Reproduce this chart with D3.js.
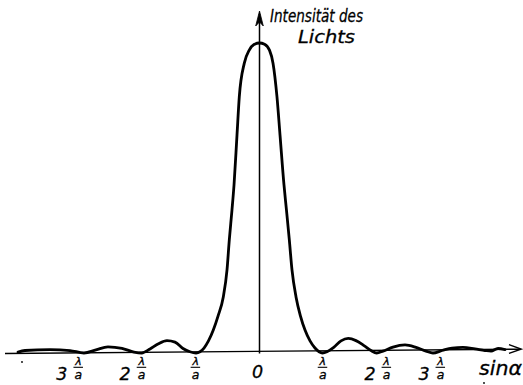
<!DOCTYPE html>
<html>
<head>
<meta charset="utf-8">
<script src="https://cdn.jsdelivr.net/npm/d3@7"></script>
<style>
  html, body { margin: 0; padding: 0; background: #fff; }
  svg { display: block; }
  text { font-family: "DejaVu Sans", "Liberation Sans", sans-serif; font-style: italic; fill: #000; stroke: #000; stroke-width: 0.3; }
</style>
</head>
<body>
<svg id="chart" width="523" height="385"></svg>
<script>
// sin(alpha) in units of lambda/a
const sinAlpha = [
  -3.895, -3.782, -3.379, -3.056, -2.831, -2.637, -2.444, -2.218, -2.024, -1.900,
  -1.766, -1.637, -1.492, -1.363, -1.234, -1.121, -1.024, -0.960, -0.895, -0.823,
  -0.745, -0.669, -0.584, -0.524, -0.487, -0.444, -0.411, -0.363, -0.326, -0.245,
  -0.165, -0.089, 0.000, 0.081, 0.161, 0.218, 0.282, 0.331, 0.395, 0.435,
  0.481, 0.524, 0.589, 0.661, 0.734, 0.815, 0.895, 0.960, 1.016, 1.089,
  1.202, 1.315, 1.432, 1.556, 1.685, 1.798, 1.890, 1.992, 2.153, 2.347,
  2.524, 2.685, 2.798, 2.944, 3.105, 3.282, 3.476, 3.637, 3.734, 3.847, 3.960
];
// relative light intensity (peak = 1)
const intensity = [
  0.003, 0.008, 0.011, 0.008, 0.000, 0.010, 0.020, 0.015, 0.003, 0.000,
  0.013, 0.029, 0.040, 0.035, 0.0145, 0.004, 0.000, 0.004, 0.016, 0.039,
  0.074, 0.119, 0.181, 0.268, 0.365, 0.461, 0.542, 0.703, 0.826, 0.935,
  0.977, 0.995, 1.000, 0.996, 0.977, 0.935, 0.826, 0.703, 0.542, 0.461,
  0.365, 0.268, 0.181, 0.119, 0.074, 0.039, 0.016, 0.004, 0.000, 0.004,
  0.019, 0.039, 0.047, 0.040, 0.024, 0.008, 0.000, 0.006, 0.019, 0.026,
  0.018, 0.006, 0.000, 0.008, 0.016, 0.018, 0.013, 0.008, 0.006, 0.0145, 0.011
];
// tick positions (units of lambda/a) and their labels
const tickValues = [-2.92, -1.90, -1.03, 0, 1.02, 2.05, 2.92];
const tickMultipliers = ["3", "2", "", "0", "", "2", "3"];
const xAxisTitle = "sinα";
const yAxisTitle = ["Intensität des", "Lichts"];

const svg = d3.select("#chart");
const x = d3.scaleLinear().domain([-1, 1]).range([259.5 - 62, 259.5 + 62]);
const y = d3.scaleLinear().domain([0, 1]).range([353, 43]);

// x axis (slightly tilted, as in the scanned drawing)
const axisG = svg.append("g");
axisG.append("line")
  .attr("x1", 5).attr("y1", 353.5).attr("x2", 520).attr("y2", 349.2)
  .attr("stroke", "#000").attr("stroke-width", 1.4);
axisG.append("path")
  .attr("d", "M509,344.6 L521,349.1 L509,353.4")
  .attr("fill", "none").attr("stroke", "#000").attr("stroke-width", 1.4);

// y axis
axisG.append("line")
  .attr("x1", x(0)).attr("y1", 353.5).attr("x2", x(0)).attr("y2", 14)
  .attr("stroke", "#000").attr("stroke-width", 1.5);
axisG.append("path")
  .attr("d", `M${x(0) - 3.8},26 L${x(0)},11 L${x(0) + 3.8},26 L${x(0)},22 Z`)
  .attr("fill", "#000").attr("stroke", "#000").attr("stroke-width", 0.8);

// intensity curve
const pts = sinAlpha.map((s, i) => [s, intensity[i]]);
const line = d3.line()
  .x(d => x(d[0]))
  .y(d => y(d[1]))
  .curve(d3.curveMonotoneX);
svg.append("path")
  .datum(pts)
  .attr("d", line)
  .attr("fill", "none")
  .attr("stroke", "#000")
  .attr("stroke-width", 2.8)
  .attr("stroke-linejoin", "round")
  .attr("stroke-linecap", "round");

// tick labels
const lab = svg.append("g");
tickValues.forEach((v, i) => {
  const cx = x(v);
  if (v === 0) {
    lab.append("text").attr("x", cx - 2).attr("y", 378)
      .attr("text-anchor", "middle").attr("font-size", 17.5).text("0");
    return;
  }
  // fraction lambda / a
  lab.append("text").attr("x", cx).attr("y", 364.5)
    .attr("text-anchor", "middle").attr("font-size", 11).text("λ");
  lab.append("line").attr("x1", cx - 5).attr("x2", cx + 4.5)
    .attr("y1", 367.3).attr("y2", 367.3)
    .attr("stroke", "#000").attr("stroke-width", 1.1);
  lab.append("text").attr("x", cx).attr("y", 379)
    .attr("text-anchor", "middle").attr("font-size", 12.5).text("a");
  if (tickMultipliers[i]) {
    lab.append("text").attr("x", cx - 11).attr("y", 379.5)
      .attr("text-anchor", "end").attr("font-size", 17.5).text(tickMultipliers[i]);
  }
});

// axis titles
svg.append("text").attr("x", 479).attr("y", 375)
  .attr("font-size", 19).attr("textLength", 43).attr("lengthAdjust", "spacingAndGlyphs")
  .text(xAxisTitle);
svg.append("text").attr("x", 270).attr("y", 21.5)
  .attr("font-size", 18.5).attr("textLength", 93).attr("lengthAdjust", "spacingAndGlyphs")
  .text(yAxisTitle[0]);
svg.append("text").attr("x", 298).attr("y", 43)
  .attr("font-size", 18).attr("textLength", 57).attr("lengthAdjust", "spacingAndGlyphs")
  .text(yAxisTitle[1]);

// small specks from the print
svg.append("circle").attr("cx", 22).attr("cy", 362).attr("r", 0.9).attr("fill", "#000");
svg.append("circle").attr("cx", 484).attr("cy", 383).attr("r", 0.9).attr("fill", "#000");
</script>
</body>
</html>
